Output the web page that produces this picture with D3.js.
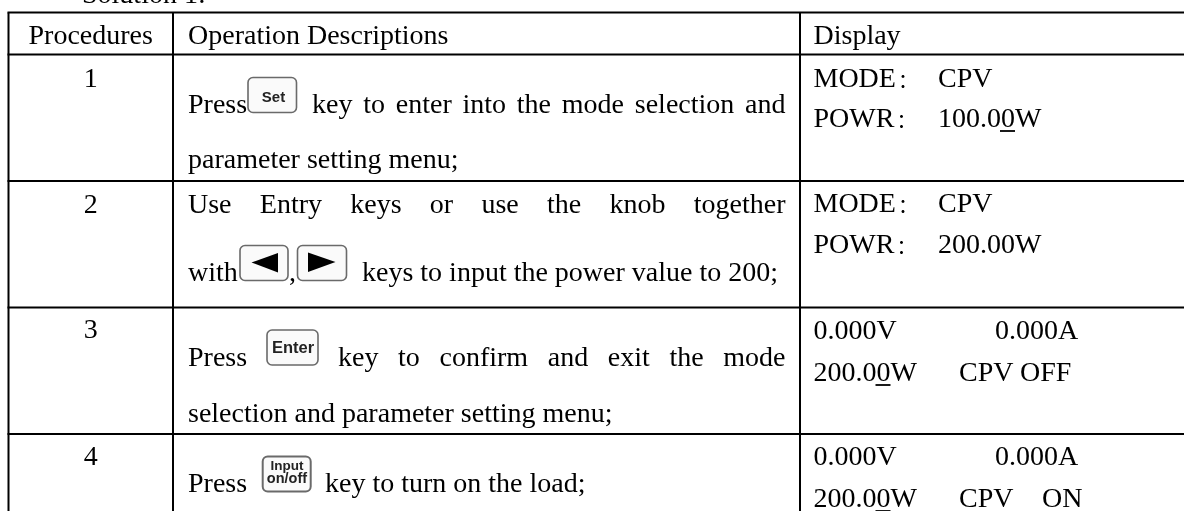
<!DOCTYPE html>
<html lang="zh-CN"><head><meta charset="utf-8">
<style>html,body{margin:0;padding:0;background:#fff}svg{display:block;filter:blur(0.3px)}
text{font-family:"Liberation Serif","Noto Sans CJK SC",serif;font-size:28px;fill:#000}</style>
<script src="https://cdnjs.cloudflare.com/ajax/libs/d3/7.8.5/d3.min.js"></script>
</head><body><svg id="c" width="1184" height="511"></svg>
<script>
const heading = "Solution 1:";
const headers = ["Procedures","Operation Descriptions","Display"];
const procedures = ["1","2","3","4"];
const descriptions = [
 ["Press","key to enter into the mode selection and","parameter setting menu;"],
 ["Use Entry keys or use the knob together","with","keys to input the power value to 200;"],
 ["Press","key to confirm and exit the mode","selection and parameter setting menu;"],
 ["Press","key to turn on the load;"]
];
const displays = [
 ["MODE","CPV","POWR","100.00W"],
 ["MODE","CPV","POWR","200.00W"],
 ["0.000V","0.000A","200.00W","CPV OFF"],
 ["0.000V","0.000A","200.00W","CPV    ON"]
];
const fullColon = "：";
const keyLabels = ["Set","Enter","Input","on/off"];

// layout
const colX=[8.5,173,800], rowY=[12.5,54.5,181,307.5,434], W=1184;
const svg=d3.select("#c");
const T=(s,x,y,anchor)=>svg.append("text").attr("x",x).attr("y",y).attr("text-anchor",anchor||"start").text(s);

T(heading,82,3);

// grid
svg.append("g").selectAll("line").data(rowY).join("line")
 .attr("x1",colX[0]-1).attr("x2",W).attr("y1",d=>d).attr("y2",d=>d).attr("stroke","#000").attr("stroke-width",2);
svg.append("g").selectAll("line").data(colX).join("line")
 .attr("x1",d=>d).attr("x2",d=>d).attr("y1",rowY[0]).attr("y2",511).attr("stroke","#000").attr("stroke-width",2);

T(headers[0],(colX[0]+colX[1])/2,43.5,"middle");
T(headers[1],188,43.5);
T(headers[2],813.5,43.5);

const numY=[87,213,338,465];
procedures.forEach((p,i)=>T(p,(colX[0]+colX[1])/2,numY[i],"middle"));

// justified helper: stretches the spaces so the text ends at xEnd
function J(s,x,y,xEnd){
  const t=T(s,x,y);
  const n=s.split(" ").length-1;
  const w=t.node().getComputedTextLength();
  if(n>0) t.style("word-spacing",((xEnd-x-w)/n)+"px");
  return t;
}
const R=785.5;
// row 1
T(descriptions[0][0],188,113); J(descriptions[0][1],312,113,R); T(descriptions[0][2],188,168);
// row 2
J(descriptions[1][0],188,213,R); T(descriptions[1][1],188,281); T(",",289,281); T(descriptions[1][2],362,281);
// row 3
T(descriptions[2][0],188,366); J(descriptions[2][1],338,366,R); T(descriptions[2][2],188,421.5);
// row 4
T(descriptions[3][0],188,491.5); T(descriptions[3][1],325,491.5);

// keys
function key(x,y,w,h,sw){
  return svg.append("rect").attr("x",x).attr("y",y).attr("width",w).attr("height",h).attr("rx",5)
   .attr("fill","#fafafa").attr("stroke","#6a6a6a").attr("stroke-width",sw||1.6);
}
function keyText(s,cx,y,size){
  svg.append("text").attr("x",cx).attr("y",y).attr("text-anchor","middle")
   .style("font-family","'Liberation Sans',sans-serif").style("font-weight","bold").style("font-size",size+"px").style("fill","#222").text(s);
}
key(248,77.5,48.5,35); keyText(keyLabels[0],273.5,101.5,15);
key(240,245.5,48,35);
svg.append("path").attr("d",d3.line()([[251.5,262.5],[278,253],[278,272.5]])+"Z").attr("fill","#000");
key(297.5,245.5,49,35);
svg.append("path").attr("d",d3.line()([[335.5,262],[308,252.5],[308,272]])+"Z").attr("fill","#000");
key(267,330,51,35); keyText(keyLabels[1],293,353,16.5);
key(262.7,456.5,48,35,2);
keyText(keyLabels[2],287,470,13.5); keyText(keyLabels[3],287,483,14.5);

// display column
const dispY=[[86.5,127],[212,253],[339,381],[465,507]];
const xA=813.5;
function under(t,start){ // underline the digit at position start
  const n=t.node(), a=n.getSubStringLength(0,start), b=n.getSubStringLength(start,1), x=+t.attr("x"), y=+t.attr("y");
  svg.append("line").attr("x1",x+a-1).attr("x2",x+a+b).attr("y1",y+4).attr("y2",y+4).attr("stroke","#000").attr("stroke-width",1.8);
}
function label(s,y){
  const t=T(s,xA,y);
  t.append("tspan").attr("dx",2).attr("dy",1).style("font-size","20px").text(fullColon);
}
displays.forEach((d,i)=>{
  const [y1,y2]=dispY[i];
  if(i<2){
    label(d[0],y1); T(d[1],938,y1); label(d[2],y2);
    const v=T(d[3],938,y2);
    if(i===0) under(v,5);
  }else{
    T(d[0],xA,y1);
    T(d[1],995,y1);
    const v=T(d[2],xA,y2); under(v,5);
    if(i===2) T(d[3],959,y2);
    else { const p=d[3].split(/\s+/); T(p[0],959,y2); T(p[1],1042,y2); }
  }
});
</script></body></html>
